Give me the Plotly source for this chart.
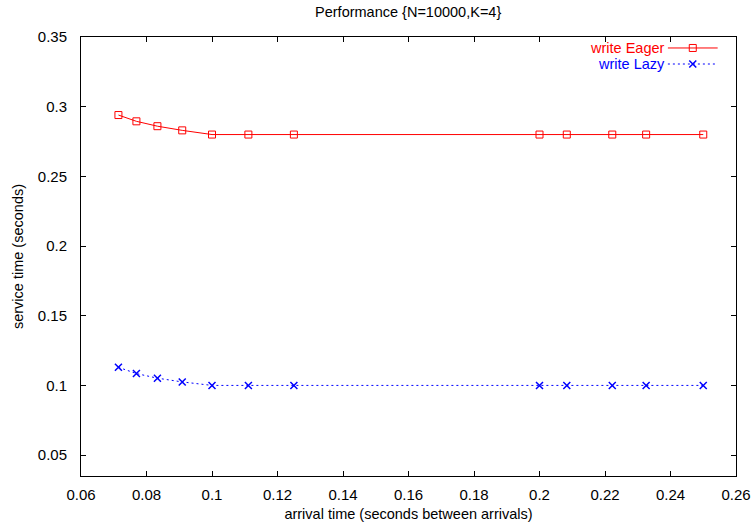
import plotly.graph_objects as go

# Mean inter-arrival time (seconds) for each test run
arrival = [1/14, 1/13, 1/12, 1/11, 1/10, 1/9, 1/8, 1/5, 1/4.8, 1/4.5, 1/4.3, 1/4]
# Mean service time (seconds) per write strategy
write_eager = [0.294, 0.2895, 0.286, 0.283, 0.28, 0.28, 0.28, 0.28, 0.28, 0.28, 0.28, 0.28]
write_lazy = [0.113, 0.1085, 0.1052, 0.1025, 0.1, 0.1, 0.1, 0.1, 0.1, 0.1, 0.1, 0.1]

x_ticks = [0.06, 0.08, 0.1, 0.12, 0.14, 0.16, 0.18, 0.2, 0.22, 0.24, 0.26]
y_ticks = [0.05, 0.1, 0.15, 0.2, 0.25, 0.3, 0.35]

RED = "#ff0000"
BLUE = "#0000ff"
FONT = "Liberation Sans, Arial, sans-serif"

eager_style = dict(line=dict(color=RED, width=1),
                   marker=dict(symbol="square-open", size=7, color=RED,
                               line=dict(color=RED, width=1)))
lazy_style = dict(line=dict(color=BLUE, width=1, dash="2px,3px"),
                  marker=dict(symbol="x-thin", size=7, color=BLUE,
                              line=dict(color=BLUE, width=1.5)))

fig = go.Figure()
fig.add_trace(go.Scatter(x=arrival, y=write_eager, mode="lines+markers",
                         name="write Eager", showlegend=False, **eager_style))
fig.add_trace(go.Scatter(x=arrival, y=write_lazy, mode="lines+markers",
                         name="write Lazy", showlegend=False, **lazy_style))

# Key samples drawn on an overlay axis spanning [0,1] of the plot area
key_x = [0.896, 0.972]
key_rows = [("write Eager", 0.975, eager_style), ("write Lazy", 0.9385, lazy_style)]
for label, ky, style in key_rows:
    fig.add_trace(go.Scatter(x=key_x, y=[ky, ky], mode="lines", xaxis="x2", yaxis="y2",
                             showlegend=False, hoverinfo="skip", line=style["line"]))
    fig.add_trace(go.Scatter(x=[sum(key_x) / 2], y=[ky], mode="markers", xaxis="x2",
                             yaxis="y2", showlegend=False, hoverinfo="skip",
                             marker=style["marker"]))
    fig.add_annotation(x=0.895, y=ky, xref="x2", yref="y2", text=label,
                       showarrow=False, xanchor="right", yanchor="middle",
                       font=dict(family=FONT, size=14.5,
                                 color=style["line"]["color"]))

axis_common = dict(showline=True, linecolor="black", linewidth=1, mirror="ticks",
                   ticks="inside", ticklen=5, tickwidth=1, tickcolor="black",
                   showgrid=False, zeroline=False, automargin=False,
                   tickfont=dict(family=FONT, size=15, color="black"))

fig.update_layout(
    width=751, height=523,
    margin=dict(l=81, r=15, t=37, b=47, autoexpand=False),
    paper_bgcolor="white", plot_bgcolor="white",
    title=dict(text="Performance {N=10000,K=4}", x=0.5435, xanchor="center",
               y=0.977, yanchor="middle",
               font=dict(family=FONT, size=14.5, color="black")),
    xaxis=dict(range=[0.06, 0.26], tickvals=x_ticks, ticklabelstandoff=5,
               title=dict(text="arrival time (seconds between arrivals)",
                          font=dict(family=FONT, size=14.5, color="black"), standoff=6),
               **axis_common),
    yaxis=dict(range=[0.035, 0.35], tickvals=y_ticks, ticklabelstandoff=10,
               title=dict(text="service time (seconds)",
                          font=dict(family=FONT, size=14.5, color="black"), standoff=10),
               **axis_common),
    xaxis2=dict(overlaying="x", range=[0, 1], visible=False),
    yaxis2=dict(overlaying="y", range=[0, 1], visible=False),
)

fig.write_html("out.html")
